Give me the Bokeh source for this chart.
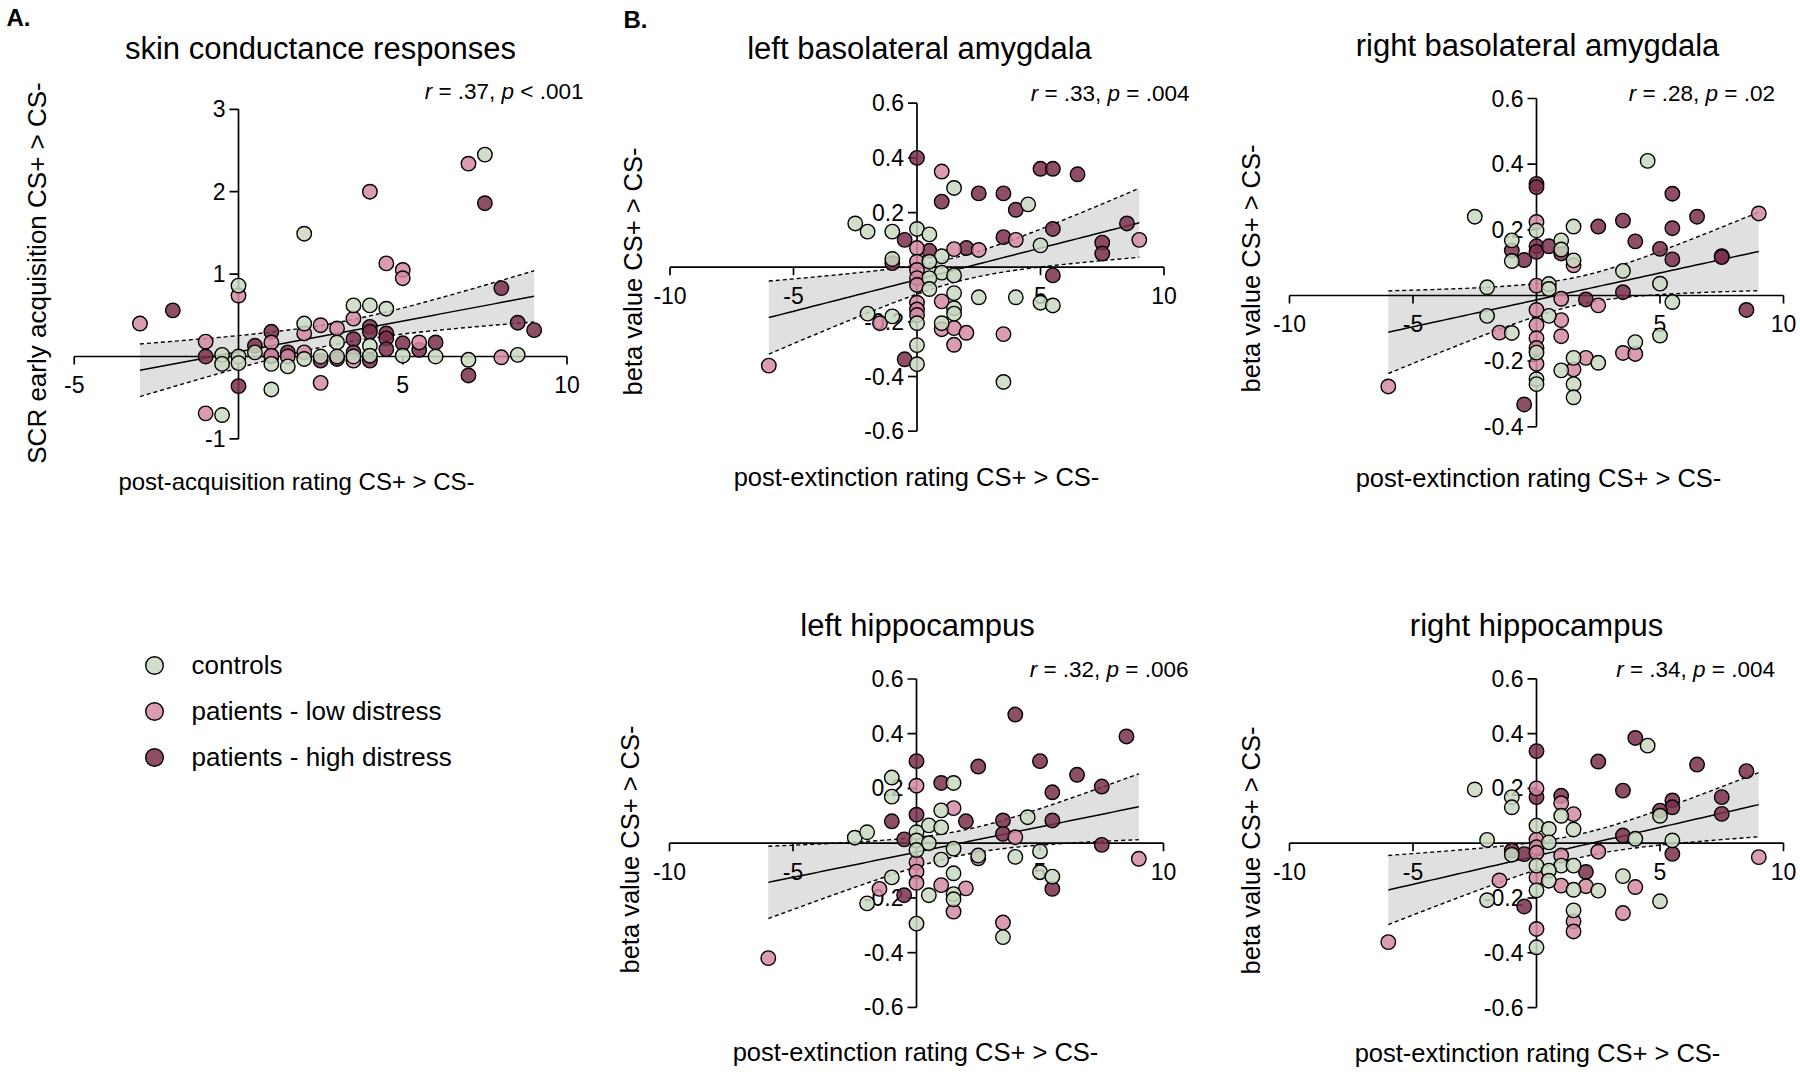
import numpy as np
from bokeh.plotting import figure
from bokeh.models import Range1d, Label, Legend, LegendItem
from bokeh.layouts import row, column
from bokeh.embed import file_html
from bokeh.resources import INLINE
from bokeh.core.properties import value

FONT = "Liberation Sans"
C_CTRL, C_LOW, C_HIGH = "#c9d8bf", "#d58aa3", "#7a2f4d"
GROUP_LABELS = ["controls", "patients - low distress", "patients - high distress"]

# ---------------- data: panel A (skin conductance) ----------------
A_ctrl_x = [0, 2.0, 7.5, 8.5, 7.0, 1.0, -0.5, -0.5, -0.5, 0, 0, 0.5, 1.0, 1.5, 2.0, 2.0, 2.5, 3.0, 3.0, 3.5, 4.0, 4.0, 4.0, 4.5, 5.0, 6.0, 3.5]
A_ctrl_y = [0.86, 1.49, 2.45, 0.02, -0.04, -0.40, -0.71, 0.02, -0.09, 0.0, -0.08, 0.05, -0.09, -0.12, 0.40, -0.03, 0.0, 0.17, 0.0, 0.62, 0.62, 0.13, 0.01, 0.58, 0.01, 0.0, 0.0]
A_low_x = [-3.0, 0, 4.0, 7.0, 4.5, 5.0, 5.0, 8.0, 2.5, -1.0, -1.0, 1.0, 1.0, 1.5, 2.0, 2.0, 2.5, 3.0, 3.5, 3.5, 5.5]
A_low_y = [0.40, 0.74, 2.0, 2.34, 1.13, 1.05, 0.95, -0.01, -0.32, -0.69, 0.18, 0.17, 0.01, 0.0, 0.28, 0.05, 0.38, 0.34, 0.46, -0.05, 0.17]
A_high_x = [-2.0, 7.5, 8.0, 8.5, 9.0, 7.0, 0, -1.0, 0.5, 1.0, 1.5, 2.5, 3.5, 3.5, 4.0, 4.0, 4.0, 4.5, 4.5, 4.5, 5.0, 5.5, 6.0, 1.0, 3.0]
A_high_y = [0.56, 1.86, 0.83, 0.41, 0.32, -0.23, -0.36, 0.0, 0.13, 0.30, 0.05, -0.05, 0.21, 0.05, 0.36, 0.30, -0.05, 0.28, 0.22, 0.09, 0.16, 0.08, 0.17, 0.0, -0.03]

# ---------------- data: B1 left basolateral amygdala ----------------
B1_ctrl_x = [-2.5, -2.0, -1.0, 0, 0.5, 1.5, 4.5, 5.0, 5.0, 5.5, 4.0, 2.5, 3.5, 1.0, -1.0, 0.5, 1.0, 1.5, 0.5, 0.5, 1.5, 1.5, 1.5, -2.0, -1.0, 0, 1.0, 0, 0]
B1_ctrl_y = [0.16, 0.13, 0.13, 0.14, 0.12, 0.29, 0.23, 0.08, -0.13, -0.14, -0.11, -0.11, -0.42, 0.04, 0.03, 0.02, -0.02, -0.03, -0.04, -0.08, -0.095, -0.15, -0.17, -0.17, -0.18, -0.205, -0.205, -0.285, -0.355]
B1_low_x = [1.0, 0, 1.5, 2.5, 4.0, 9.0, 0, 0, 0, 0, 1.0, -1.5, 0, 0, 0, 1.0, 1.5, 2.0, 3.5, 1.5, -6.0]
B1_low_y = [0.35, 0.07, 0.066, 0.063, 0.10, 0.10, 0.02, -0.01, -0.04, -0.065, -0.125, -0.205, -0.13, -0.155, -0.175, -0.227, -0.223, -0.24, -0.245, -0.284, -0.36]
B1_high_x = [0, 1.0, 2.5, 3.5, 4.0, 5.0, 5.5, 6.5, 8.5, 5.5, 7.5, 7.5, 5.5, 3.5, 2.0, -0.5, 0.5, -1.0, -0.5]
B1_high_y = [0.40, 0.24, 0.27, 0.27, 0.21, 0.36, 0.36, 0.34, 0.16, 0.14, 0.09, 0.05, -0.03, 0.11, 0.07, 0.10, 0.06, 0.015, -0.337]

# ---------------- data: B2 right basolateral amygdala ----------------
B2_ctrl_x = [4.5, -2.5, 1.5, 0, -1.0, -1.0, 1.0, 1.0, 1.5, 3.5, 5.0, 0.5, 0.5, -2.0, 5.5, -2.0, 0.5, -1.0, 5.0, 4.0, 0, 1.5, 2.5, 1.0, 1.5, 0, 0, 1.5]
B2_ctrl_y = [0.41, 0.24, 0.21, 0.198, 0.168, 0.105, 0.168, 0.14, 0.107, 0.075, 0.036, 0.035, 0.02, 0.025, -0.02, -0.062, -0.062, -0.114, -0.122, -0.142, -0.174, -0.19, -0.205, -0.228, -0.27, -0.255, -0.27, -0.31]
B2_low_x = [9.0, 0, 1.5, 0, 2.5, 1.0, 0, 0, 1.0, 1.0, -1.5, 0, 0, 3.5, 4.0, 0, 2.0, 1.5, -6.0]
B2_low_y = [0.25, 0.224, 0.092, 0.03, -0.03, -0.01, -0.044, -0.09, -0.075, -0.124, -0.113, -0.13, -0.16, -0.175, -0.178, -0.208, -0.19, -0.225, -0.277]
B2_high_x = [0, 0, 5.5, 6.5, 3.5, 2.5, 5.5, 4.0, -1.0, -0.5, 0, 0, 0.5, 1.0, 5.0, 5.5, 7.5, 7.5, 3.5, 2.0, 8.5, -0.5]
B2_high_y = [0.34, 0.33, 0.31, 0.24, 0.228, 0.21, 0.205, 0.165, 0.137, 0.108, 0.15, 0.133, 0.15, 0.128, 0.142, 0.11, 0.12, 0.117, 0.01, -0.012, -0.044, -0.332]

# ---------------- data: B3 left hippocampus ----------------
B3_ctrl_x = [1.5, -1.0, -1.0, 1.0, 0.5, 1.0, 4.5, -2.5, -2.0, 0, 0, 0.5, 0, 1.5, 2.5, 4.0, 5.0, 1.0, 1.5, 5.0, 5.5, -1.0, 0.5, 1.5, 1.5, -2.0, 0, 3.5]
B3_ctrl_y = [0.22, 0.24, 0.17, 0.12, 0.065, 0.058, 0.095, 0.02, 0.04, 0.04, 0.01, 0.0, -0.025, -0.02, -0.045, -0.05, -0.03, -0.06, -0.11, -0.106, -0.122, -0.125, -0.19, -0.186, -0.205, -0.22, -0.294, -0.343]
B3_low_x = [0, 1.5, 4.0, 2.5, 9.0, 0, 0, 0, 1.0, 2.0, -1.5, 1.5, 3.5, -6.0]
B3_low_y = [0.21, 0.128, 0.022, -0.055, -0.057, -0.07, -0.104, -0.145, -0.153, -0.165, -0.167, -0.25, -0.29, -0.42]
B3_high_x = [4.0, 8.5, 0, 2.5, 5.0, 6.5, 7.5, 5.5, 1.0, 2.0, -1.0, 0, 3.5, 5.5, 3.5, 7.5, -0.5, 5.5, -0.5]
B3_high_y = [0.47, 0.39, 0.30, 0.28, 0.30, 0.25, 0.207, 0.186, 0.22, 0.08, 0.08, 0.104, 0.083, 0.083, 0.034, -0.006, 0.014, -0.167, -0.19]

# ---------------- data: B4 right hippocampus ----------------
B4_ctrl_x = [4.5, -2.5, -1.0, -1.0, 1.0, 1.5, 0, 0.5, 5.0, 4.0, 5.5, -2.0, -1.0, 0.5, 0, 1.0, 1.5, 0.5, 0.5, 3.5, 0, 1.5, 2.5, -2.0, 5.0, 1.5, 0]
B4_ctrl_y = [0.356, 0.196, 0.168, 0.131, 0.10, 0.05, 0.064, 0.052, 0.10, 0.016, 0.01, 0.012, -0.042, 0.003, -0.082, -0.082, -0.082, -0.1, -0.137, -0.12, -0.172, -0.17, -0.173, -0.208, -0.212, -0.245, -0.38]
B4_low_x = [0, 1.0, 1.5, 2.5, 9.0, 0, 0, 0, 1.0, 0, -1.5, 1.0, 4.0, 2.0, 3.5, 1.5, 1.5, 0, -6.0]
B4_low_y = [0.20, 0.146, 0.106, -0.031, -0.051, 0.013, -0.015, -0.035, -0.045, -0.125, -0.136, -0.155, -0.16, -0.157, -0.255, -0.285, -0.322, -0.313, -0.361]
B4_high_x = [4.0, 0, 2.5, 6.5, 8.5, 3.5, 0, 1.0, 5.5, 5.5, 5.0, 7.5, 7.5, 3.5, 5.5, -1.0, -0.5, 2.0, -0.5]
B4_high_y = [0.384, 0.336, 0.298, 0.287, 0.263, 0.192, 0.168, 0.173, 0.156, 0.131, 0.119, 0.168, 0.107, 0.028, -0.039, -0.027, -0.04, -0.105, -0.231]

# ---------------- ticks, titles, labels ----------------
A_xticks = [-5, 5, 10]
A_yticks = [-1, 1, 2, 3]
B_xticks = [-10, -5, 5, 10]
B_yticks = [-0.6, -0.4, -0.2, 0.2, 0.4, 0.6]
B2_yticks = [-0.4, -0.2, 0.2, 0.4, 0.6]

TITLES = {"A": "skin conductance responses", "B1": "left basolateral amygdala",
          "B2": "right basolateral amygdala", "B3": "left hippocampus", "B4": "right hippocampus"}
STATS = {"A": (".37,", "< .001"), "B1": (".33,", "= .004"), "B2": (".28,", "= .02"),
         "B3": (".32,", "= .006"), "B4": (".34,", "= .004")}
YLABEL_A = "SCR early acquisition CS+ > CS-"
XLABEL_A = "post-acquisition rating CS+ > CS-"
YLABEL_B = "beta value CS+ > CS-"
XLABEL_B = "post-extinction rating CS+ > CS-"

T_CRIT = 1.994

# ---------------- layout geometry (screen px) ----------------
GEOM = {
    "A":  dict(left=0, top=0, w=600, h=1075, x0=238.0, sx=32.85, y0=356.0, sy=82.4),
    "B1": dict(left=600, top=0, w=600, h=540, x0=916.5, sx=24.7, y0=266.7, sy=273.3),
    "B2": dict(left=1200, top=0, w=600, h=540, x0=1536.0, sx=24.7, y0=295.0, sy=328.3),
    "B3": dict(left=600, top=540, w=600, h=535, x0=916.0, sx=24.7, y0=842.7, sy=273.7),
    "B4": dict(left=1200, top=540, w=600, h=535, x0=1536.0, sx=24.7, y0=842.7, sy=274.0),
}
# text anchor points (px): visual vertical centres of the texts
TEXTPOS = {
    "A":  dict(title=(320, 47.6), stat=(583, 91), ylab=(36, 272.5), xlab=(296, 481), xl_fs=24, yl_fs=26),
    "B1": dict(title=(919, 48.3), stat=(1189, 92.5), ylab=(632.5, 271), xlab=(916, 476), xl_fs=25.5, yl_fs=25.5),
    "B2": dict(title=(1537, 45), stat=(1774.5, 92.5), ylab=(1250, 268), xlab=(1538, 477), xl_fs=25.5, yl_fs=25.5),
    "B3": dict(title=(917, 625), stat=(1188, 668.5), ylab=(629, 849), xlab=(915, 1051), xl_fs=25.5, yl_fs=25.5),
    "B4": dict(title=(1536, 625), stat=(1774.5, 668.5), ylab=(1250, 850), xlab=(1537, 1052), xl_fs=25.5, yl_fs=25.5),
}

CHAR_W = {' ': 278, '=': 584, '<': 584, '.': 278, ',': 278, 'r': 333, 'p': 556}


def tw(s, fs):
    return sum(CHAR_W.get(ch, 556) for ch in s) / 1000.0 * fs


class Panel:
    def __init__(self, key):
        g = GEOM[key]
        self.g = g
        self.p = figure(width=g["w"], height=g["h"],
                        x_range=Range1d((g["left"] - g["x0"]) / g["sx"], (g["left"] + g["w"] - g["x0"]) / g["sx"]),
                        y_range=Range1d((g["y0"] - (g["top"] + g["h"])) / g["sy"], (g["y0"] - g["top"]) / g["sy"]),
                        x_axis_location=None, y_axis_location=None, title=None,
                        toolbar_location=None, tools="", min_border=0,
                        output_backend="svg", outline_line_color=None,
                        background_fill_color="white", border_fill_color="white")
        self.p.xgrid.visible = False
        self.p.ygrid.visible = False

    def dx(self, px):
        return (px - self.g["x0"]) / self.g["sx"]

    def dy(self, py):
        return (self.g["y0"] - py) / self.g["sy"]

    def label(self, px, py, text, size, align="left", baseline="alphabetic", style="normal", angle=0.0):
        self.p.add_layout(Label(x=self.dx(px), y=self.dy(py), text=text, text_font=FONT,
                                text_font_size=f"{size}px", text_align=align, text_baseline=baseline,
                                text_font_style=style, angle=angle, text_color="black"))


def fit_band(xs, ys):
    x = np.asarray(xs, float)
    y = np.asarray(ys, float)
    n = len(x)
    b1, b0 = np.polyfit(x, y, 1)
    res = y - (b0 + b1 * x)
    s = np.sqrt(np.sum(res ** 2) / (n - 2))
    sxx = np.sum((x - x.mean()) ** 2)
    xg = np.linspace(x.min(), x.max(), 60)
    yh = b0 + b1 * xg
    se = s * np.sqrt(1.0 / n + (xg - x.mean()) ** 2 / sxx)
    return xg, yh, yh - T_CRIT * se, yh + T_CRIT * se


def build(key, ctrl, low, high, xticks, yticks, ylabel, xlabel, yfmt):
    pn = Panel(key)
    p = pn.p
    g = pn.g
    allx = list(ctrl[0]) + list(low[0]) + list(high[0])
    ally = list(ctrl[1]) + list(low[1]) + list(high[1])
    xg, yh, lo, hi = fit_band(allx, ally)
    p.varea(x=xg, y1=lo, y2=hi, fill_color="#e0e0e0", fill_alpha=1.0)

    # crossed axes through the origin
    xmin, xmax = min(xticks), max(xticks)
    ymin, ymax = min(yticks), max(yticks)
    p.segment(x0=[xmin], y0=[0], x1=[xmax], y1=[0], line_color="black", line_width=1.7)
    p.segment(x0=[0], y0=[ymin], x1=[0], y1=[ymax], line_color="black", line_width=1.7)
    tl_x = 8.0 / g["sy"]
    tl_y = 9.0 / g["sx"]
    p.segment(x0=xticks, y0=[0] * len(xticks), x1=xticks, y1=[-tl_x] * len(xticks),
              line_color="black", line_width=1.7)
    p.segment(x0=[0] * len(yticks), y0=yticks, x1=[-tl_y] * len(yticks), y1=yticks,
              line_color="black", line_width=1.7)

    # regression line with confidence band
    p.line(xg, yh, line_color="black", line_width=1.5)
    p.line(xg, lo, line_color="black", line_width=1.4, line_dash="4 3")
    p.line(xg, hi, line_color="black", line_width=1.4, line_dash="4 3")

    # tick labels
    p.text(x=xticks, y=[-28.0 / g["sy"]] * len(xticks), text=[str(t) for t in xticks],
           text_font=value(FONT), text_font_size="23px", text_align="center",
           text_baseline="alphabetic", text_color="black")
    p.text(x=[pn.dx(g["x0"] - 13)] * len(yticks), y=[v + 0.5 / g["sy"] for v in yticks],
           text=[yfmt(v) for v in yticks], text_font=value(FONT), text_font_size="23px",
           text_align="right", text_baseline="alphabetic", text_color="black")

    rends = []
    for (xs, ys), col in [(high, C_HIGH), (low, C_LOW), (ctrl, C_CTRL)]:
        r = p.scatter(x=xs, y=ys, marker="circle", size=14.5, fill_color=col, fill_alpha=0.85,
                      line_color="black", line_width=1.4)
        rends.append(r)

    tp = TEXTPOS[key]
    pn.label(tp["title"][0], tp["title"][1], TITLES[key], 31, align="center")
    pn.label(tp["ylab"][0], tp["ylab"][1], ylabel, tp["yl_fs"], align="center", baseline="middle", angle=np.pi / 2)
    pn.label(tp["xlab"][0], tp["xlab"][1], xlabel, tp["xl_fs"], align="center")

    # statistics text with italic r and p
    fs = 22.5
    rv, pv = STATS[key]
    full = "r = " + rv + " p " + pv
    right, base = tp["stat"]
    start = right - tw(full, fs)
    pn.label(start, base, "r", fs, style="italic")
    pn.label(start + tw("r ", fs), base, "= " + rv, fs)
    pn.label(start + tw("r = " + rv + " ", fs), base, "p", fs, style="italic")
    pn.label(start + tw("r = " + rv + " p ", fs), base, pv, fs)
    return pn, rends[::-1]


fmt_int = lambda v: str(int(v))
fmt_dec = lambda v: f"{v:.1f}"

pA, rA = build("A", (A_ctrl_x, A_ctrl_y), (A_low_x, A_low_y), (A_high_x, A_high_y),
               A_xticks, A_yticks, YLABEL_A, XLABEL_A, fmt_int)
pB1, _ = build("B1", (B1_ctrl_x, B1_ctrl_y), (B1_low_x, B1_low_y), (B1_high_x, B1_high_y),
               B_xticks, B_yticks, YLABEL_B, XLABEL_B, fmt_dec)
pB2, _ = build("B2", (B2_ctrl_x, B2_ctrl_y), (B2_low_x, B2_low_y), (B2_high_x, B2_high_y),
               B_xticks, B2_yticks, YLABEL_B, XLABEL_B, fmt_dec)
pB3, _ = build("B3", (B3_ctrl_x, B3_ctrl_y), (B3_low_x, B3_low_y), (B3_high_x, B3_high_y),
               B_xticks, B_yticks, YLABEL_B, XLABEL_B, fmt_dec)
pB4, _ = build("B4", (B4_ctrl_x, B4_ctrl_y), (B4_low_x, B4_low_y), (B4_high_x, B4_high_y),
               B_xticks, B_yticks, YLABEL_B, XLABEL_B, fmt_dec)

# panel letters
pA.label(6, 17, "A.", 24, style="bold")
pB1.label(623, 18.5, "B.", 24, style="bold")

# legend (location in px from the bottom-left of panel A's frame)
leg_left = 131.5 - GEOM["A"]["left"]
leg_bottom = (GEOM["A"]["top"] + GEOM["A"]["h"]) - 779.4
legend = Legend(items=[LegendItem(label=GROUP_LABELS[i], renderers=[rA[i]]) for i in range(3)],
                location=(leg_left, leg_bottom), orientation="vertical",
                border_line_color=None, background_fill_alpha=0.0,
                label_text_font=FONT, label_text_font_size="26px", label_text_color="black",
                glyph_width=44, glyph_height=44, label_height=44, spacing=2,
                label_standoff=16, padding=0, margin=0)
pA.p.add_layout(legend)

layout = row(pA.p, column(pB1.p, pB3.p), column(pB2.p, pB4.p))
open("out.html", "w").write(file_html(layout, INLINE))
